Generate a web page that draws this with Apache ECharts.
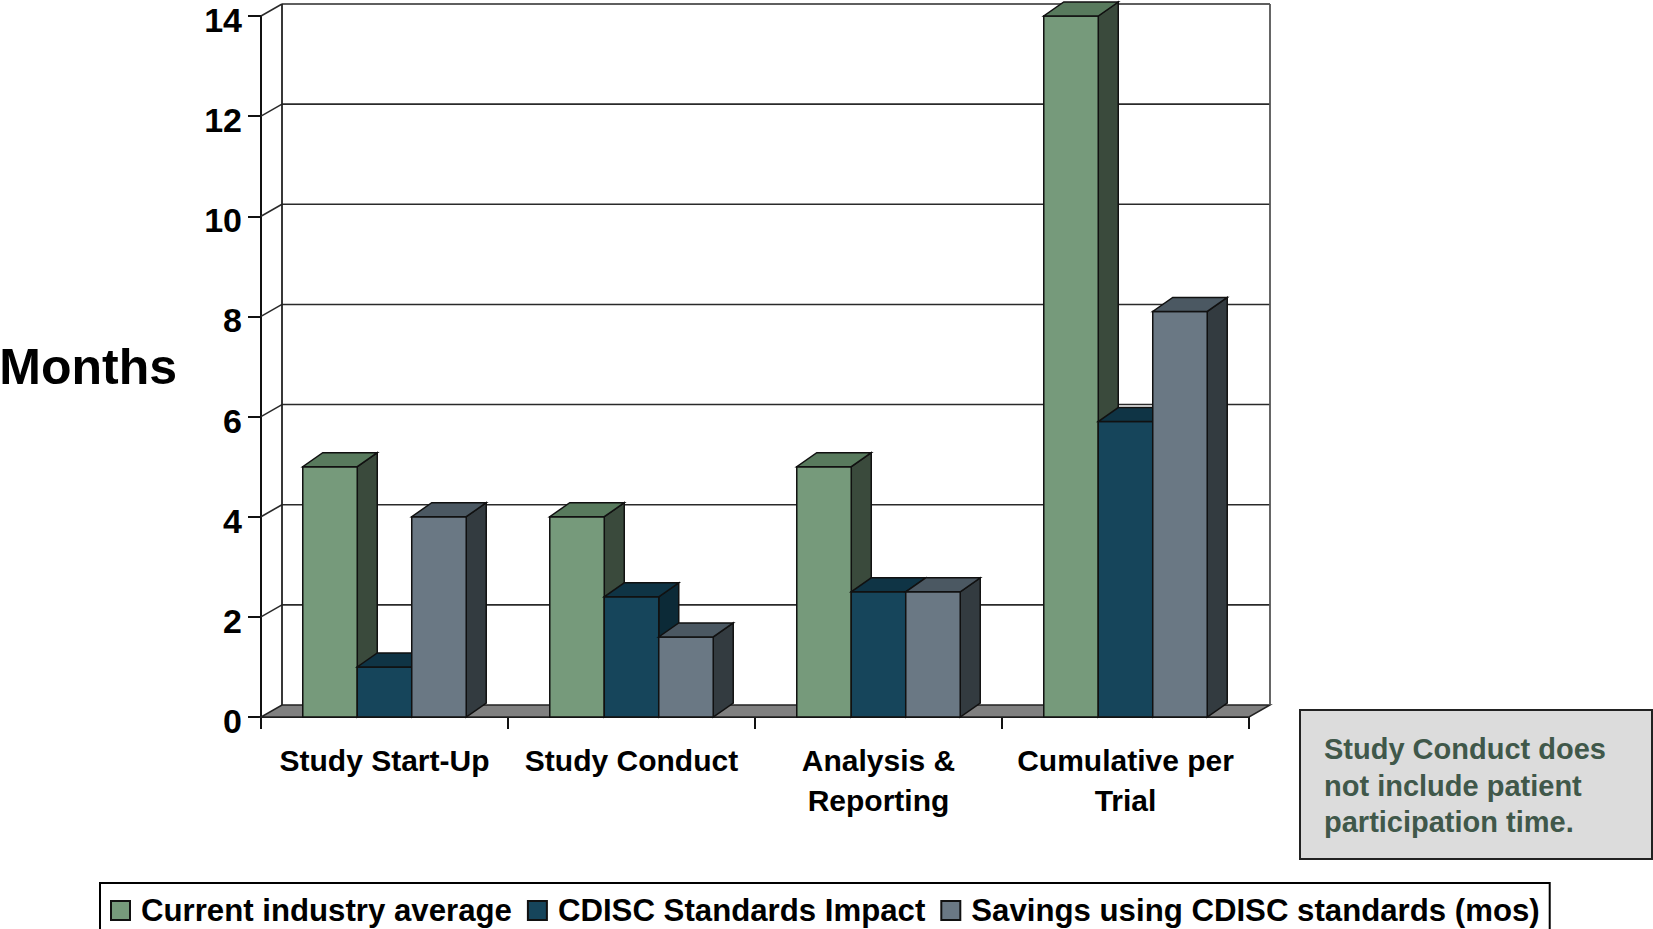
<!DOCTYPE html>
<html>
<head>
<meta charset="utf-8">
<script src="https://cdn.jsdelivr.net/npm/echarts@6/dist/echarts.min.js"></script>
<style>
  html, body { margin: 0; padding: 0; background: #fff; }
  #chart { width: 1653px; height: 929px; }
</style>
</head>
<body>
<div id="chart"></div>
<script>
// ---- data ----
const categories = ['Study Start-Up', 'Study Conduct', 'Analysis &\nReporting', 'Cumulative per\nTrial'];
const seriesNames = ['Current industry average', 'CDISC Standards Impact', 'Savings using CDISC standards (mos)'];
const currentAverage = [5, 4, 5, 14];
const cdiscImpact = [1, 2.4, 2.5, 5.9];
const savings = [4, 1.6, 2.5, 8.1];
const yTicks = [0, 2, 4, 6, 8, 10, 12, 14];
const yAxisTitle = 'Months';
const noteText = 'Study Conduct does\nnot include patient\nparticipation time.';

// ---- styles ----
const FONT = '"Liberation Sans", Arial, Helvetica, sans-serif';
const faces = [
  { front: '#769a7b', top: '#587a5d', side: '#3a4a3c' },
  { front: '#16455b', top: '#0f3445', side: '#0c2a37' },
  { front: '#6a7884', top: '#4b5862', side: '#333b40' }
];
const BAR_FRAC = 0.2206;   // bar width as fraction of category band
const BDX = 20, BDY = -14; // bar depth offset
const WDX = 21, WDY = -12; // wall depth offset
const EDGE = '#111';

function barRenderer(si) {
  return function (params, api) {
    const ci = api.value(0), v = api.value(1);
    const base = api.coord([ci, 0]);
    const top = api.coord([ci, v]);
    const band = api.size([1, 0])[0];
    const bw = band * BAR_FRAC;
    const x0 = base[0] - (bw * 3) / 2 + si * bw;
    const x1 = x0 + bw;
    const yB = base[1], yT = top[1];
    const f = faces[si];
    return {
      type: 'group',
      children: [
        { type: 'polygon', shape: { points: [[x1, yT], [x1 + BDX, yT + BDY], [x1 + BDX, yB + BDY], [x1, yB]] },
          style: { fill: f.side, stroke: EDGE, lineWidth: 1.5 } },
        { type: 'rect', shape: { x: x0, y: yT, width: bw, height: yB - yT },
          style: { fill: f.front, stroke: EDGE, lineWidth: 1.5 } },
        { type: 'polygon', shape: { points: [[x0, yT], [x1, yT], [x1 + BDX, yT + BDY], [x0 + BDX, yT + BDY]] },
          style: { fill: f.top, stroke: EDGE, lineWidth: 1.5 } }
      ]
    };
  };
}

function frameRenderer(params, api) {
  const cs = params.coordSys;
  const xL = cs.x, xR = cs.x + cs.width;
  const y0 = api.coord([0, 0])[1];
  const yTop = api.coord([0, yTicks[yTicks.length - 1]])[1];
  const children = [];
  // floor
  children.push({ type: 'polygon', shape: { points: [[xL, y0], [xR, y0], [xR + WDX, y0 + WDY], [xL + WDX, y0 + WDY]] },
    style: { fill: '#808080', stroke: '#222', lineWidth: 1.5 } });
  yTicks.forEach(function (t) {
    if (t === 0) return;
    const y = api.coord([0, t])[1];
    children.push({ type: 'line', shape: { x1: xL + WDX, y1: y + WDY, x2: xR + WDX, y2: y + WDY },
      style: { stroke: '#2a2a2a', lineWidth: 1.6 } });
    children.push({ type: 'line', shape: { x1: xL, y1: y, x2: xL + WDX, y2: y + WDY },
      style: { stroke: '#2a2a2a', lineWidth: 1.6 } });
  });
  children.push({ type: 'line', shape: { x1: xL + WDX, y1: yTop + WDY, x2: xL + WDX, y2: y0 + WDY },
    style: { stroke: '#222', lineWidth: 1.8 } });
  children.push({ type: 'line', shape: { x1: xR + WDX, y1: yTop + WDY, x2: xR + WDX, y2: y0 + WDY },
    style: { stroke: '#555', lineWidth: 1.8 } });
  return { type: 'group', children: children };
}

const values = [currentAverage, cdiscImpact, savings];

const chart = echarts.init(document.getElementById('chart'), null, { renderer: 'svg' });
chart.setOption({
  backgroundColor: '#ffffff',
  animation: false,
  grid: { left: 261, top: 16, width: 988, height: 701, containLabel: false, outerBoundsMode: 'none' },
  xAxis: {
    type: 'category',
    data: categories,
    axisLine: { show: true, lineStyle: { color: '#111', width: 2 } },
    axisTick: { show: true, length: 12, lineStyle: { color: '#111', width: 2 } },
    axisLabel: { interval: 0, margin: 23, color: '#000', fontFamily: FONT, fontWeight: 'bold',
                 fontSize: 30, lineHeight: 40 },
    splitLine: { show: false }
  },
  yAxis: {
    type: 'value',
    min: 0, max: 14, interval: 2,
    name: yAxisTitle,
    nameLocation: 'middle',
    nameRotate: 0,
    nameGap: 84,
    nameTextStyle: { fontFamily: FONT, fontWeight: 'bold', fontSize: 50, color: '#000', align: 'right', verticalAlign: 'middle' },
    axisLine: { show: true, lineStyle: { color: '#111', width: 2 } },
    axisTick: { show: true, length: 13, lineStyle: { color: '#111', width: 2 } },
    axisLabel: { margin: 19, color: '#000', fontFamily: FONT, fontWeight: 'bold', fontSize: 34,
                 verticalAlign: 'top', lineHeight: 8 },
    splitLine: { show: false }
  },
  legend: {
    left: 100, top: 883,
    padding: [12, 10, 12, 10],
    borderColor: '#000', borderWidth: 2,
    itemGap: 15, itemWidth: 19, itemHeight: 19,
    icon: 'rect',
    data: seriesNames,
    textStyle: { fontFamily: FONT, fontWeight: 'bold', fontSize: 31.2, color: '#000', padding: [0, 0, 0, 6] }
  },
  graphic: [{
    type: 'group', left: 1299, top: 709,
    children: [
      { type: 'rect', shape: { x: 0, y: 0, width: 352, height: 149 },
        style: { fill: '#dcdcdc', stroke: '#222', lineWidth: 2 } },
      { type: 'text', x: 24, y: 21,
        style: { text: noteText, font: 'bold 29px ' + FONT, fill: '#40584a', lineHeight: 36.5 } }
    ]
  }],
  series: [
    { type: 'custom', name: '_frame', renderItem: frameRenderer, data: [[0, 0]], z: 1, silent: true,
      legendHoverLink: false }
  ].concat(values.map(function (vals, si) {
    return {
      type: 'custom',
      name: seriesNames[si],
      renderItem: barRenderer(si),
      data: vals.map(function (v, i) { return [i, v]; }),
      itemStyle: { color: faces[si].front, borderColor: '#111', borderWidth: 1.5 },
      z: 2 + si
    };
  }))
});
</script>
</body>
</html>
